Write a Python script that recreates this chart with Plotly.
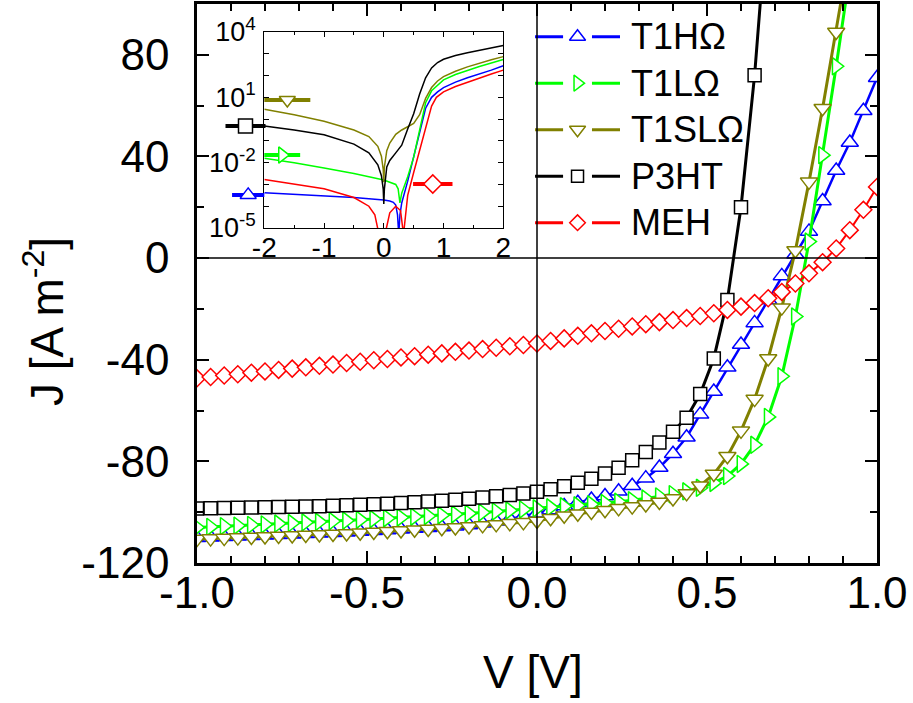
import numpy as np
import plotly.graph_objects as go

# ---------------- main J-V data ----------------
# bias sweep, 0.04 V steps
voltage = np.round(np.linspace(-1.0, 1.0, 51), 2)

j_t1h = [-110.1, -109.9, -109.7, -109.5, -109.3, -109.1, -108.9, -108.7, -108.5, -108.3,
         -108.1, -107.9, -107.6, -107.3, -107.0, -106.7, -106.4, -106.1, -105.8, -105.5,
         -105.0, -104.4, -103.6, -102.7, -101.6, -100.4,
         -99.1, -97.6, -96.3, -95.0, -93.6, -91.8, -89.6, -86.6, -82.4, -77.0,
         -70.5, -61.5, -52.5, -43.0, -34.0, -25.5, -16.5, -7.0, 1.5, 10.5,
         22.5, 34.5, 45.5, 58.0, 71.0]

j_t1l = [-106.0, -105.8, -105.5, -105.3, -105.0, -104.8, -104.5, -104.3, -104.0, -103.8,
         -103.5, -103.3, -103.0, -102.7, -102.4, -102.1, -101.8, -101.5, -101.2, -100.8,
         -100.5, -100.1, -99.7, -99.3, -98.9, -98.5,
         -98.1, -97.7, -97.3, -96.9, -96.4, -95.9, -95.3, -94.6, -93.8, -92.9,
         -91.8, -90.4, -88.5, -85.8, -81.0, -73.5, -62.5, -46.5, -23.0, 6.5,
         40.5, 75.5, 112.0, 150.0, 190.0]

j_t1sl = [-110.6, -110.4, -110.2, -110.0, -109.8, -109.6, -109.4, -109.2, -109.0, -108.8,
          -108.6, -108.4, -108.1, -107.8, -107.5, -107.2, -106.9, -106.6, -106.3, -106.0,
          -105.6, -105.2, -104.8, -104.4, -104.0, -103.5,
          -102.4, -101.4, -100.6, -99.9, -99.2, -98.5, -97.8, -97.0, -96.0, -94.6,
          -92.6, -89.6, -85.0, -78.0, -68.0, -55.5, -39.5, -19.5, 3.0, 30.0,
          59.0, 89.0, 121.0, 155.0, 190.0]

j_p3ht = [-98.6, -98.5, -98.4, -98.3, -98.2, -98.1, -98.0, -97.9, -97.8, -97.7,
          -97.5, -97.3, -97.1, -96.9, -96.7, -96.4, -96.1, -95.8, -95.5, -95.1,
          -94.7, -94.2, -93.7, -93.2, -92.6, -92.0,
          -91.0, -89.8, -88.4, -86.8, -84.8, -82.5, -79.6, -76.3, -72.6, -68.3,
          -62.8, -53.5, -39.5, -16.5, 20.0, 72.0, 140.0]

j_meh = [-47.3, -46.8, -46.2, -45.7, -45.1, -44.6, -44.0, -43.5, -43.0, -42.4,
         -41.9, -41.3, -40.8, -40.2, -39.7, -39.1, -38.6, -38.0, -37.5, -36.9,
         -36.4, -35.8, -35.3, -34.7, -34.2, -33.6,
         -32.6, -31.6, -30.6, -29.6, -28.7, -27.8, -26.9, -26.0, -25.2, -24.4,
         -23.6, -22.8, -21.7, -20.4, -19.1, -17.7, -15.8, -13.3, -10.0, -6.0,
         -1.6, 3.8, 11.0, 19.0, 28.0]

# ---------------- inset: log|J| vs V ----------------
inset_v_t1h = [-2.0, -1.5, -1.0, -0.5, 0.0, 0.1, 0.16, 0.2, 0.23, 0.25, 0.27, 0.3, 0.4, 0.5,
               0.6, 0.7, 0.8, 0.9, 1.0, 1.2, 1.4, 1.6, 1.8, 2.0]
inset_log_t1h = [-3.38, -3.45, -3.52, -3.6, -3.72, -3.76, -3.82, -3.95, -4.4, -5.3, -4.4, -3.85,
                 -2.85, -1.75, -0.6, 0.5, 1.0, 1.25, 1.45, 1.7, 1.9, 2.07, 2.25, 2.45]

inset_v_t1l = [-2.0, -1.5, -1.0, -0.5, 0.0, 0.1, 0.2, 0.24, 0.27, 0.3, 0.4, 0.5, 0.6, 0.7,
               0.8, 0.9, 1.0, 1.2, 1.4, 1.6, 1.8, 2.0]
inset_log_t1l = [-1.8, -2.0, -2.25, -2.5, -2.8, -2.9, -3.0, -3.2, -3.85, -3.4, -2.65, -1.75,
                 -0.45, 0.75, 1.3, 1.55, 1.8, 2.05, 2.25, 2.42, 2.58, 2.74]

inset_v_t1sl = [-2.0, -1.5, -1.0, -0.5, -0.25, -0.1, -0.04, -0.01, 0.0, 0.01, 0.05, 0.1, 0.2,
                0.3, 0.4, 0.5, 0.6, 0.7, 0.8, 0.9, 1.0, 1.2, 1.4, 1.6, 1.8, 2.0]
inset_log_t1sl = [0.45, 0.2, -0.1, -0.5, -0.8, -1.25, -1.7, -2.3, -2.9, -2.2, -1.45, -1.1, -0.7,
                  -0.5, -0.35, -0.2, 0.2, 0.95, 1.45, 1.75, 1.95, 2.2, 2.4, 2.58, 2.73, 2.87]

inset_v_p3ht = [-2.0, -1.5, -1.0, -0.5, -0.25, -0.1, -0.04, -0.01, 0.0, 0.01, 0.05, 0.1, 0.2,
                0.3, 0.4, 0.5, 0.6, 0.7, 0.8, 0.9, 1.0, 1.2, 1.4, 1.6, 1.8, 2.0]
inset_log_p3ht = [-0.32, -0.5, -0.72, -1.15, -1.55, -2.1, -2.6, -3.2, -3.9, -3.2, -2.2, -1.9,
                  -1.55, -1.2, -0.45, 0.25, 1.15, 1.9, 2.35, 2.6, 2.75, 2.92, 3.05, 3.17, 3.28, 3.38]

inset_v_meh = [-2.0, -1.5, -1.0, -0.5, -0.25, -0.15, -0.08, 0.02, 0.1, 0.2, 0.28, 0.33, 0.4,
               0.5, 0.6, 0.7, 0.8, 0.88, 1.0, 1.2, 1.4, 1.6, 1.8, 2.0]
inset_log_meh = [-2.77, -3.0, -3.2, -3.6, -4.0, -4.4, -5.3, -5.3, -4.3, -4.0, -4.2, -5.3, -3.5,
                 -2.45, -1.4, -0.4, 0.6, 1.0, 1.25, 1.5, 1.7, 1.87, 2.07, 2.25]

# inset curve labels: (start V, end V, log10 level) of each key segment
inset_keys_t1h = (-2.54, -2.0, -3.48)
inset_keys_t1l = (-2.0, -1.40, -1.65)
inset_keys_t1sl = (-2.0, -1.23, 0.88)
inset_keys_p3ht = (-2.65, -1.98, -0.32)
inset_keys_meh = (0.49, 1.15, -2.98)

# tick labels
x_ticks = [-1.0, -0.5, 0.0, 0.5, 1.0]
y_ticks = [-120, -80, -40, 0, 40, 80]
inset_x_ticks = [-2, -1, 0, 1, 2]
inset_decades = list(range(-5, 5))
inset_labelled_decades = [-5, -2, 1, 4]

FONT = "Liberation Sans, Arial, sans-serif"

series = [
    dict(name="T1HΩ", j=j_t1h, color="#0000FF", symbol="triangle-up", lw=2.5, ms=15,
         iv=inset_v_t1h, il=inset_log_t1h, key=inset_keys_t1h),
    dict(name="T1LΩ", j=j_t1l, color="#00FF00", symbol="triangle-right", lw=3, ms=15,
         iv=inset_v_t1l, il=inset_log_t1l, key=inset_keys_t1l),
    dict(name="T1SLΩ", j=j_t1sl, color="#808000", symbol="triangle-down", lw=3, ms=15,
         iv=inset_v_t1sl, il=inset_log_t1sl, key=inset_keys_t1sl),
    dict(name="P3HT", j=j_p3ht, color="#000000", symbol="square", lw=3, ms=13,
         iv=inset_v_p3ht, il=inset_log_p3ht, key=inset_keys_p3ht),
    dict(name="MEH", j=j_meh, color="#FF0000", symbol="diamond", lw=2, ms=13,
         iv=inset_v_meh, il=inset_log_meh, key=inset_keys_meh),
]

# subplot geometry (paper fractions)
INSET_X = [0.099, 0.4504]
INSET_Y = [0.5993, 0.9499]
INSET_XR = [-2, 2]
LEG_X = [0.4971, 0.6221]
LEG_Y = [0.5672, 0.9831]
# overlay sharing the inset scale but reaching further left, for the curve keys
KEYS_X = [0.0, INSET_X[1]]
v_per_paper = (INSET_XR[1] - INSET_XR[0]) / (INSET_X[1] - INSET_X[0])
KEYS_XR = [INSET_XR[0] - (INSET_X[0] - KEYS_X[0]) * v_per_paper, INSET_XR[1]]

fig = go.Figure()

# main J-V curves
for s in series:
    n = len(s["j"])
    fig.add_trace(go.Scatter(
        x=voltage[:n], y=s["j"], mode="lines+markers", name=s["name"],
        line=dict(color=s["color"], width=s["lw"]),
        marker=dict(symbol=s["symbol"], size=s["ms"], color="white",
                    line=dict(color=s["color"], width=1.5)),
        xaxis="x", yaxis="y", showlegend=False))

# inset curves
for s in series:
    fig.add_trace(go.Scatter(
        x=s["iv"], y=10 ** np.array(s["il"]), mode="lines",
        line=dict(color=s["color"], width=1.5),
        xaxis="x2", yaxis="y2", showlegend=False))

# inset curve keys: thick segment with a marker in the middle
for s in series:
    xs, xe, lv = s["key"]
    fig.add_trace(go.Scatter(
        x=[xs, xe], y=[10 ** lv] * 2, mode="lines",
        line=dict(color=s["color"], width=4),
        xaxis="x4", yaxis="y4", showlegend=False))
    fig.add_trace(go.Scatter(
        x=[(xs + xe) / 2], y=[10 ** lv], mode="markers",
        marker=dict(symbol=s["symbol"], size=14, color="white",
                    line=dict(color=s["color"], width=1.5)),
        xaxis="x4", yaxis="y4", showlegend=False))

# legend drawn on its own bare axes: one row per series
annotations = []
text_x = LEG_X[0] + 1.1 * (LEG_X[1] - LEG_X[0])
for i, s in enumerate(series):
    row = len(series) - 1 - i
    fig.add_trace(go.Scatter(
        x=[0, 0.33, None, 0.67, 1], y=[row, row, None, row, row], mode="lines",
        line=dict(color=s["color"], width=3), xaxis="x3", yaxis="y3", showlegend=False))
    fig.add_trace(go.Scatter(
        x=[0.5], y=[row], mode="markers",
        marker=dict(symbol=s["symbol"], size=14 if "triangle" in s["symbol"] else 12,
                    color="white", line=dict(color=s["color"], width=1.5)),
        xaxis="x3", yaxis="y3", showlegend=False))
    annotations.append(dict(xref="paper", yref="y3", x=text_x, y=row, text=s["name"],
                            xanchor="left", yanchor="middle", showarrow=False,
                            font=dict(family=FONT, size=36, color="black")))

# zero lines through the main panel
shapes = [
    dict(type="line", xref="x", yref="y domain", x0=0, x1=0, y0=0, y1=1,
         layer="above", line=dict(color="black", width=1.5)),
    dict(type="line", xref="x domain", yref="y", x0=0, x1=1, y0=0, y1=0,
         layer="above", line=dict(color="black", width=1.5)),
]

# axis titles
annotations.append(dict(xref="paper", yref="paper", x=-0.225, y=0.431,
                        text="J [A m<sup>-2</sup>]", textangle=-90, showarrow=False,
                        xanchor="center", yanchor="middle",
                        font=dict(family=FONT, size=46, color="black")))
annotations.append(dict(xref="paper", yref="paper", x=0.494, y=-0.195,
                        text="V [V]", showarrow=False, xanchor="center", yanchor="middle",
                        font=dict(family=FONT, size=46, color="black")))

bare = dict(visible=True, showline=False, showgrid=False, zeroline=False,
            showticklabels=False, ticks="", automargin=False, fixedrange=True)

fig.update_layout(
    width=913, height=703,
    margin=dict(l=197, r=36, t=4, b=140, autoexpand=False),
    paper_bgcolor="white", plot_bgcolor="rgba(0,0,0,0)",
    font=dict(family=FONT, color="black"),
    shapes=shapes, annotations=annotations,
    xaxis=dict(
        domain=[0, 1], range=[-1, 1], anchor="y", automargin=False,
        tickmode="array", tickvals=x_ticks, ticktext=[f"{v:.1f}" for v in x_ticks],
        ticks="inside", ticklen=12, tickwidth=2, tickcolor="black",
        minor=dict(tickmode="array", tickvals=[round(-1 + 0.1 * k, 1) for k in range(21)],
                   ticks="inside", ticklen=7, tickwidth=2, tickcolor="black"),
        showline=True, linecolor="black", linewidth=2.5, mirror="ticks",
        showgrid=False, zeroline=False,
        tickfont=dict(family=FONT, size=44), ticklabelstandoff=-11),
    yaxis=dict(
        domain=[0, 1], range=[-120, 100], anchor="x", automargin=False,
        tickmode="array", tickvals=y_ticks, ticktext=[str(v) for v in y_ticks],
        ticks="inside", ticklen=12, tickwidth=2, tickcolor="black",
        minor=dict(tickmode="array", tickvals=list(range(-120, 101, 20)),
                   ticks="inside", ticklen=7, tickwidth=2, tickcolor="black"),
        showline=True, linecolor="black", linewidth=2.5, mirror="ticks",
        showgrid=False, zeroline=False,
        tickfont=dict(family=FONT, size=44), ticklabelstandoff=16),
    xaxis2=dict(
        domain=INSET_X, range=INSET_XR, anchor="y2", automargin=False,
        tickmode="array", tickvals=inset_x_ticks, ticktext=[str(v) for v in inset_x_ticks],
        ticks="inside", ticklen=5, tickwidth=1, tickcolor="black",
        minor=dict(tickmode="array", tickvals=[-1.5, -0.5, 0.5, 1.5],
                   ticks="inside", ticklen=3, tickwidth=1, tickcolor="black"),
        showline=True, linecolor="black", linewidth=1.2, mirror="ticks",
        showgrid=False, zeroline=False,
        tickfont=dict(family=FONT, size=28), ticklabelstandoff=-6),
    yaxis2=dict(
        domain=INSET_Y, type="log", range=[-5, 4], anchor="x2", automargin=False,
        tickmode="array", tickvals=[10.0 ** k for k in inset_labelled_decades],
        ticktext=[f"10<sup>{k}</sup>" for k in inset_labelled_decades],
        ticks="inside", ticklen=5, tickwidth=1, tickcolor="black",
        minor=dict(tickmode="array",
                   tickvals=[10.0 ** k for k in inset_decades if k not in inset_labelled_decades],
                   ticks="inside", ticklen=5, tickwidth=1, tickcolor="black"),
        showline=True, linecolor="black", linewidth=1.2, mirror="ticks",
        showgrid=False, zeroline=False,
        tickfont=dict(family=FONT, size=27), ticklabelstandoff=2),
    xaxis3=dict(domain=LEG_X, range=[0, 1], anchor="y3", **bare),
    yaxis3=dict(domain=LEG_Y, range=[-0.5, 4.5], anchor="x3", **bare),
    xaxis4=dict(domain=KEYS_X, range=KEYS_XR, anchor="y4", **bare),
    yaxis4=dict(domain=INSET_Y, type="log", range=[-5, 4], anchor="x4", **bare),
)

fig.write_html("out.html", config={"displayModeBar": False})
